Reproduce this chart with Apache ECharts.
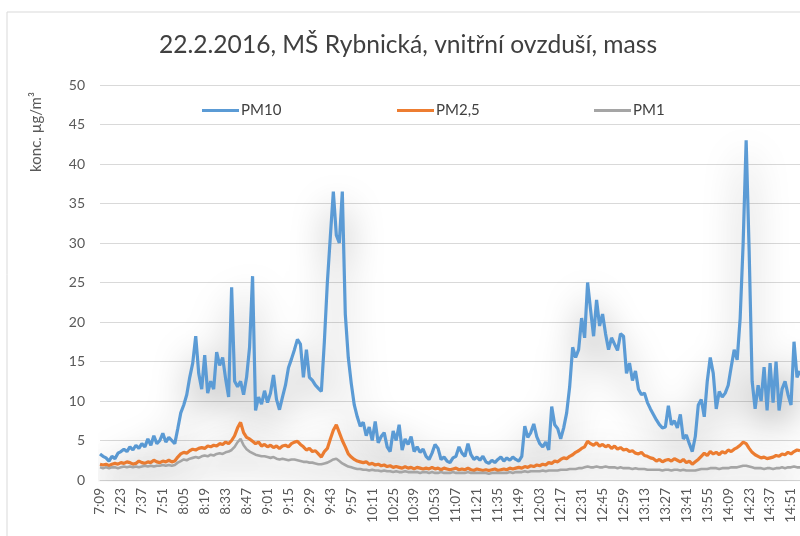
<!DOCTYPE html>
<html>
<head>
<meta charset="utf-8">
<script src="https://cdn.jsdelivr.net/npm/echarts@6/dist/echarts.min.js"></script>
<style>
  html, body { margin: 0; padding: 0; background: #fff; }
  #chart { width: 800px; height: 536px; }
</style>
</head>
<body>
<div id="chart"></div>
<script>
// time axis: one sample every 2 minutes from 7:09
var START_MIN = 7 * 60 + 9
var STEP_MIN = 2
var SAMPLES = 235

// PM10 (µg/m3)
var pm10 = [
  3.3, 3.0, 2.8, 2.4, 3.0, 2.7, 3.4, 3.6, 3.9, 3.6,
  4.2, 3.8, 4.4, 4.0, 4.6, 4.2, 5.2, 4.4, 5.6, 4.6,
  5.0, 5.9, 4.8, 5.4, 5.0, 4.6, 6.5, 8.5, 9.5, 10.8,
  13.0, 14.8, 18.2, 13.5, 11.5, 15.8, 11.0, 12.5, 11.5, 16.2,
  14.5, 15.5, 12.8, 10.5, 24.4, 12.5, 11.8, 12.5, 10.8, 13.0,
  16.8, 25.8, 8.8, 10.5, 9.6, 11.3, 9.8, 11.0, 13.3, 10.2,
  8.9, 10.5, 12.0, 14.2, 15.3, 16.5, 17.8, 17.2, 13.0, 16.5,
  13.0, 12.6, 12.0, 11.6, 11.2, 17.5, 25.0, 30.8, 36.5, 31.0,
  30.0, 36.5, 21.0, 15.5, 12.2, 9.5, 8.0, 6.8, 7.3, 5.6,
  6.7, 5.0, 7.4, 4.7, 5.5, 6.0, 4.2, 3.6, 6.2, 5.0,
  7.0, 3.8, 5.2, 4.5, 5.5, 3.6, 4.2, 3.5, 3.9, 3.0,
  2.6, 3.4, 4.5, 4.0, 2.6, 2.9, 2.4, 2.2, 2.8, 3.0,
  4.2, 3.4, 3.0, 4.6, 3.2, 2.6, 2.9, 2.5, 3.0, 2.3,
  2.1, 2.5, 2.2, 2.6, 2.9, 2.4, 2.8, 2.5, 2.9, 2.6,
  2.4, 3.0, 6.8, 5.4, 6.0, 7.1, 5.5, 4.6, 4.2, 4.8,
  3.8, 9.3, 7.0, 6.5, 5.2, 6.6, 8.5, 11.8, 16.8, 15.5,
  16.5, 20.5, 18.0, 25.0, 21.5, 18.2, 22.8, 19.5, 21.0, 18.5,
  16.5, 18.0, 17.2, 16.4, 18.5, 18.2, 13.5, 14.8, 12.6, 13.8,
  11.5, 10.8, 11.0, 9.8, 9.0, 8.3, 7.6, 7.0, 6.6, 6.7,
  9.4, 7.0, 7.5, 6.6, 8.3, 5.2, 5.7, 4.6, 3.6, 5.5,
  9.5, 10.2, 8.0, 12.5, 15.5, 13.5, 9.0, 11.2, 10.5, 11.0,
  12.0, 14.3, 16.5, 15.2, 20.5, 30.0, 43.0, 29.0, 12.5, 9.0,
  12.0, 10.0, 14.3, 8.8, 14.8, 9.8, 15.0, 8.8, 11.5, 12.5,
  10.8, 9.5, 17.5, 13.0, 13.8
]

// PM2,5
var pm25 = [
  2.0, 1.9, 2.0, 1.8, 2.0, 2.1, 2.0, 2.2, 2.1, 2.3,
  2.2, 2.0, 2.1, 2.4, 2.2, 2.1, 2.3, 2.2, 2.5, 2.3,
  2.2, 2.4, 2.3, 2.5, 2.3, 2.4, 2.9, 3.3, 3.5, 3.4,
  3.7, 3.9, 3.8, 4.0, 4.1, 4.0, 4.3, 4.2, 4.4, 4.3,
  4.6, 4.5, 4.8, 4.6, 5.0, 5.6, 6.6, 7.3, 6.0, 5.4,
  5.2, 4.9, 4.6, 4.8, 4.3, 4.5, 4.2, 4.4, 4.1, 4.3,
  4.0, 4.3, 4.4, 4.2, 4.6, 4.8, 4.9, 4.5, 4.2, 3.8,
  4.0, 3.6, 3.7, 3.3, 2.9, 3.6, 4.0, 5.2, 6.3, 7.0,
  6.0, 5.0, 4.2, 3.3, 2.9, 2.6, 2.4, 2.3, 2.2, 2.3,
  2.0, 2.1, 1.9, 2.0, 1.8, 1.9, 1.7, 1.8, 1.6, 1.7,
  1.6, 1.5, 1.7, 1.5, 1.6, 1.4, 1.6, 1.5, 1.4, 1.5,
  1.4, 1.6, 1.4, 1.5, 1.3, 1.5, 1.4, 1.3, 1.4, 1.5,
  1.3, 1.4, 1.3, 1.5, 1.3, 1.2, 1.4, 1.3, 1.2, 1.3,
  1.2, 1.3, 1.4, 1.2, 1.3, 1.4, 1.3, 1.5, 1.4, 1.5,
  1.6, 1.5, 1.7, 1.6, 1.8, 1.7, 1.9, 1.8, 2.0, 1.9,
  2.2, 2.1, 2.4, 2.3, 2.6, 2.8, 2.7, 3.0, 3.2, 3.5,
  3.7, 4.0, 4.2, 4.9, 4.6, 4.4, 4.7, 4.3, 4.5, 4.2,
  4.4, 4.0, 4.3, 3.9, 4.1, 3.8, 3.9, 3.6, 3.7, 3.4,
  3.3, 3.5, 3.1, 3.0, 2.8, 2.7, 2.4, 2.6, 2.3, 2.5,
  2.6, 2.4, 2.7, 2.5, 2.3, 2.6, 2.2, 2.4, 2.0, 2.3,
  2.6, 3.0, 3.4, 3.1, 3.6, 3.3, 3.5, 3.2, 3.6, 3.4,
  3.8, 3.6, 3.9, 4.1, 4.4, 4.8, 4.6, 4.0, 3.5, 3.2,
  3.0, 2.8, 2.9, 2.7, 2.8, 2.9, 3.1, 3.0, 3.3, 3.2,
  3.5, 3.3, 3.6, 3.8, 3.7
]

// PM1
var pm1 = [
  1.6, 1.5, 1.6, 1.5, 1.6, 1.6, 1.5, 1.6, 1.7, 1.6,
  1.7, 1.6, 1.7, 1.6, 1.7, 1.8, 1.7, 1.8, 1.7, 1.8,
  1.8, 1.9, 1.8, 1.9, 1.8, 1.9,
  2.2, 2.4, 2.6, 2.5, 2.7, 2.8, 2.9, 2.8, 3.0, 3.1,
  3.0, 3.2, 3.1, 3.3, 3.4, 3.3, 3.5, 3.6, 3.8, 4.2,
  4.8, 5.2, 4.4, 3.9, 3.6, 3.4, 3.2, 3.1, 3.0, 3.0,
  2.9, 2.8, 2.9, 2.7, 2.6, 2.7, 2.6, 2.5, 2.6, 2.6,
  2.5, 2.4, 2.3, 2.3, 2.2, 2.2, 2.1, 2.0, 2.0, 2.1,
  2.2, 2.4, 2.6, 2.7, 2.4, 2.1, 1.9, 1.7, 1.6, 1.5,
  1.4, 1.4, 1.3, 1.3, 1.2, 1.3, 1.2, 1.2, 1.1, 1.2,
  1.1, 1.1, 1.0, 1.1, 1.0, 1.0, 1.1, 1.0, 1.0, 1.0,
  1.0, 0.9, 1.0, 1.0, 0.9, 1.0, 0.9, 0.9, 1.0, 0.9,
  0.9, 0.9, 1.0, 0.9, 0.9, 0.9, 0.9, 1.0, 0.9, 0.9,
  0.9, 0.9, 0.9, 0.9, 0.8, 0.9, 0.9, 0.9, 0.9, 0.9,
  0.9, 1.0, 0.9, 1.0, 1.0, 1.0, 1.1, 1.0, 1.1, 1.1,
  1.1, 1.1, 1.2, 1.1, 1.2, 1.2, 1.2, 1.2, 1.3, 1.3,
  1.3, 1.4, 1.4, 1.4, 1.5, 1.5, 1.6, 1.7, 1.6, 1.6,
  1.7, 1.6, 1.6, 1.7, 1.6, 1.6, 1.6, 1.5, 1.6, 1.5,
  1.5, 1.5, 1.4, 1.5, 1.4, 1.4, 1.4, 1.3, 1.3, 1.3,
  1.3, 1.3, 1.2, 1.3, 1.3, 1.2, 1.3, 1.3, 1.2, 1.3,
  1.2, 1.2, 1.2, 1.2, 1.3, 1.4, 1.4, 1.4, 1.5, 1.5,
  1.5, 1.4, 1.5, 1.5, 1.5, 1.6, 1.6, 1.6, 1.7, 1.8,
  1.8, 1.7, 1.6, 1.5, 1.5, 1.5, 1.4, 1.5, 1.5, 1.4,
  1.5, 1.5, 1.6, 1.5, 1.6, 1.6, 1.7, 1.6, 1.6
]

var times = []
for (var i = 0; i < SAMPLES; i++) {
  var m = START_MIN + i * STEP_MIN
  var mm = m % 60
  times.push(Math.floor(m / 60) + ':' + (mm < 10 ? '0' + mm : mm))
}

var FONT = 'Lato, "Noto Sans", sans-serif'
var TEXT = '#595959'

function lineSeries(name, data, color, width) {
  return {
    name: name,
    type: 'line',
    data: data,
    symbol: 'none',
    lineStyle: {
      color: color,
      width: width,
      shadowColor: 'rgba(0,0,0,0.4)',
      shadowBlur: 36,
      shadowOffsetY: 14
    },
    itemStyle: { color: color }
  }
}

function legendAt(name, left) {
  return {
    data: [name],
    left: left,
    top: 98,
    icon: 'rect',
    itemWidth: 37,
    itemHeight: 3,
    itemGap: 0,
    textStyle: { color: '#404040', fontSize: 15, fontFamily: FONT, padding: [0, 0, 0, -3] }
  }
}

var chart = echarts.init(document.getElementById('chart'))
chart.setOption({
  animation: false,
  backgroundColor: '#fff',
  title: {
    text: '22.2.2016, MŠ Rybnická, vnitřní ovzduší, mass',
    left: 403,
    top: 28,
    textAlign: 'center',
    textStyle: { color: '#404040', fontSize: 24.6, fontWeight: 'normal', fontFamily: FONT }
  },
  legend: [
    legendAt('PM10', 197),
    legendAt('PM2,5', 392),
    legendAt('PM1', 589)
  ],
  graphic: [
    {
      type: 'rect',
      shape: { x: 7, y: 12, width: 900, height: 700 },
      style: { fill: 'none', stroke: '#d9d9d9', lineWidth: 1 },
      z: -1
    },
    {
      type: 'text',
      x: 36,
      y: 132,
      rotation: Math.PI / 2,
      style: {
        text: 'konc. µg/m³',
        fill: TEXT,
        fontSize: 15,
        fontFamily: FONT,
        align: 'center',
        verticalAlign: 'middle'
      }
    }
  ],
  grid: { left: 100, right: 0, top: 85, bottom: 56 },
  xAxis: {
    type: 'category',
    data: times,
    boundaryGap: false,
    axisLine: { lineStyle: { color: '#d9d9d9' } },
    axisTick: { show: false },
    axisLabel: {
      interval: 6,
      rotate: 90,
      color: TEXT,
      fontSize: 13.5,
      fontFamily: FONT,
      margin: 8
    }
  },
  yAxis: {
    type: 'value',
    min: 0,
    max: 50,
    interval: 5,
    axisLine: { show: false },
    axisTick: { show: false },
    axisLabel: { color: TEXT, fontSize: 14, fontFamily: FONT, margin: 15 },
    splitLine: { lineStyle: { color: '#d9d9d9' } }
  },
  series: [
    lineSeries('PM10', pm10, '#5b9bd5', 3.2),
    lineSeries('PM2,5', pm25, '#ed7d31', 3.2),
    lineSeries('PM1', pm1, '#a5a5a5', 2.6)
  ]
})
</script>
</body>
</html>
